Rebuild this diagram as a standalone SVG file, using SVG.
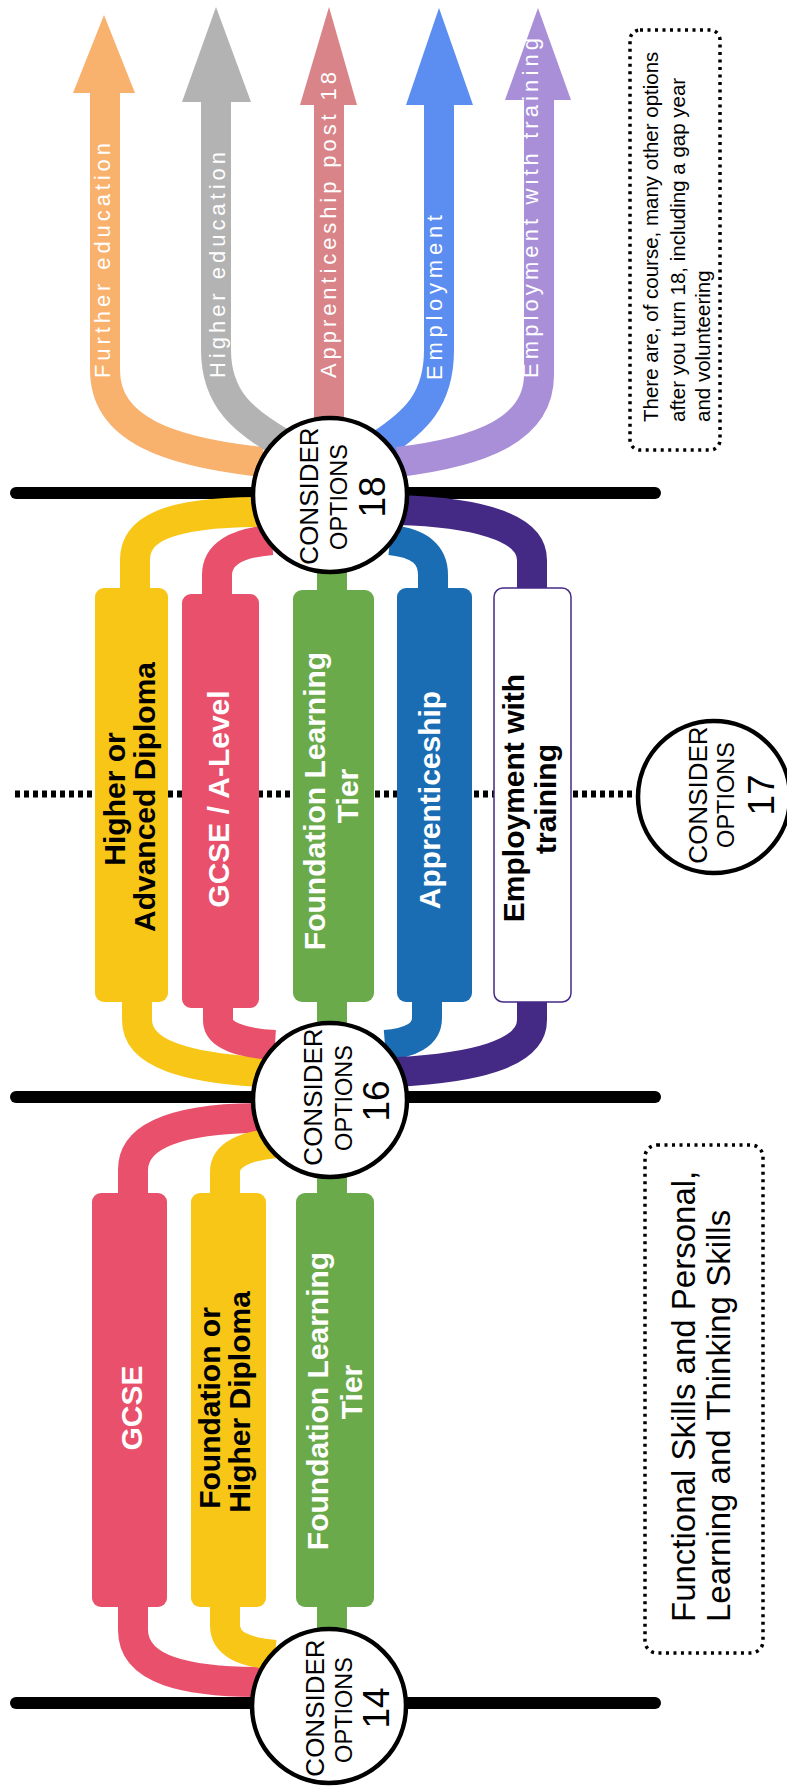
<svg xmlns="http://www.w3.org/2000/svg" width="787" height="1787" viewBox="0 0 787 1787">
<style>
text{font-family:"Liberation Sans",Arial,sans-serif}
.ln{stroke:#000;stroke-width:12;stroke-linecap:round;fill:none}
.dot{stroke:#000;stroke-width:7;stroke-dasharray:5 4;fill:none}
.tube{fill:none;stroke-width:30}
.circ{fill:#fff;stroke:#000;stroke-width:4.5}
.ct{font-size:26px;text-anchor:middle}
.co{font-size:23.5px;text-anchor:middle}
.cn{font-size:37px;text-anchor:middle}
.bl{font-size:30px;font-weight:bold;text-anchor:middle}
.w{fill:#fff}
.k{fill:#000}
.al{font-size:22px;fill:#fff}
.note{fill:#fff;stroke:#000;stroke-width:3.5;stroke-dasharray:3 4.5}
.nt{font-size:20.5px;fill:#000}
.nb{font-size:33px;fill:#000}
</style>

<g id="timeline-lines">
<line class="ln" x1="16" y1="493" x2="655" y2="493"/>
<line class="ln" x1="16" y1="1097" x2="655" y2="1097"/>
<line class="ln" x1="16" y1="1703" x2="655" y2="1703"/>
<line class="dot" x1="15" y1="794" x2="640" y2="794"/>
</g>

<g id="connectors">
<path class="tube" stroke="#F9B26E" stroke-width="31" d="M105,92 V370 C105,430 170,452 262,462"/>
<path class="tube" stroke="#B3B3B3" stroke-width="33" d="M216,100 V350 C216,400 245,422 285,445"/>
<path class="tube" stroke="#D88488" stroke-width="27" d="M329,100 V430"/>
<path class="tube" stroke="#5C8DF0" stroke-width="37" d="M439,100 V350 C439,400 415,422 380,445"/>
<path class="tube" stroke="#A98FD8" stroke-width="35" d="M539,98 V375 C539,430 480,452 398,462"/>
<path class="tube" stroke="#F7C616" d="M135,595 V560 C135,530 165,512 262,512"/>
<path class="tube" stroke="#E8506B" stroke-width="28" d="M217,600 V575 C217,555 235,543 272,540"/>
<path class="tube" stroke="#6BAA4B" stroke-width="28" d="M332,560 V600"/>
<path class="tube" stroke="#1A6DB3" d="M433,600 V575 C433,555 420,543 390,540"/>
<path class="tube" stroke="#452A85" d="M532,600 V560 C532,525 470,512 398,510"/>
<path class="tube" stroke="#F7C616" d="M137,995 V1020 C137,1055 190,1068 262,1072"/>
<path class="tube" stroke="#E8506B" stroke-width="28" d="M218,1000 V1020 C218,1035 240,1043 275,1045"/>
<path class="tube" stroke="#6BAA4B" stroke-width="28" d="M332,995 V1035"/>
<path class="tube" stroke="#1A6DB3" d="M427,995 V1018 C427,1035 410,1043 385,1045"/>
<path class="tube" stroke="#452A85" d="M532,995 V1020 C532,1055 470,1068 398,1072"/>
<path class="tube" stroke="#E8506B" d="M133,1200 V1170 C133,1135 180,1118 262,1118"/>
<path class="tube" stroke="#F7C616" stroke-width="28" d="M225,1200 V1172 C225,1155 245,1145 280,1143"/>
<path class="tube" stroke="#6BAA4B" stroke-width="28" d="M332,1165 V1200"/>
<path class="tube" stroke="#E8506B" d="M133,1600 V1630 C133,1670 185,1682 262,1682"/>
<path class="tube" stroke="#F7C616" stroke-width="28" d="M225,1600 V1625 C225,1645 245,1652 275,1655"/>
<path class="tube" stroke="#6BAA4B" stroke-width="28" d="M332,1600 V1640"/>
</g>

<g id="arrow-further-education">
<polygon fill="#F9B26E" points="104,15 135,93 73,93"/>
<text class="al" transform="rotate(-90)" x="-378" y="110" textLength="235" lengthAdjust="spacing">Further education</text>
</g>
<g id="arrow-higher-education">
<polygon fill="#B3B3B3" points="216,7 251,102 182,102"/>
<text class="al" transform="rotate(-90)" x="-378" y="225" textLength="226" lengthAdjust="spacing">Higher education</text>
</g>
<g id="arrow-apprenticeship-post-18">
<polygon fill="#D88488" points="329,7 357,105 300,105"/>
<text class="al" transform="rotate(-90)" x="-378" y="336" textLength="306" lengthAdjust="spacing">Apprenticeship post 18</text>
</g>
<g id="arrow-employment">
<polygon fill="#5C8DF0" points="439,8 473,105 406,105"/>
<text class="al" transform="rotate(-90)" x="-380" y="442" textLength="165" lengthAdjust="spacing">Employment</text>
</g>
<g id="arrow-employment-with-training">
<polygon fill="#A98FD8" points="538,8 571,100 505,100"/>
<text class="al" transform="rotate(-90)" x="-378" y="538" textLength="340" lengthAdjust="spacing">Employment with training</text>
</g>

<g id="note-other-options">
<rect class="note" x="630" y="30" width="90" height="420" rx="10"/>
<text class="nt" transform="rotate(-90)" x="-422" y="658">There are, of course, many other options</text>
<text class="nt" transform="rotate(-90)" x="-422" y="685">after you turn 18, including a gap year</text>
<text class="nt" transform="rotate(-90)" x="-422" y="710">and volunteering</text>
</g>

<g id="bar-higher-advanced-diploma">
<rect x="95" y="588" width="73" height="414" rx="9" fill="#F7C616"/>
<text class="bl k" transform="rotate(-90)" x="-799" y="125">Higher or</text>
<text class="bl k" transform="rotate(-90)" x="-797" y="155">Advanced Diploma</text>
</g>
<g id="bar-gcse-a-level">
<rect x="182" y="594" width="77" height="414" rx="9" fill="#E8506B"/>
<text class="bl w" transform="rotate(-90)" x="-799" y="229">GCSE / A-Level</text>
</g>
<g id="bar-foundation-learning-tier-16">
<rect x="293" y="590" width="81" height="412" rx="9" fill="#6BAA4B"/>
<text class="bl w" transform="rotate(-90)" x="-801" y="325">Foundation Learning</text>
<text class="bl w" transform="rotate(-90)" x="-796" y="358">Tier</text>
</g>
<g id="bar-apprenticeship">
<rect x="397" y="588" width="75" height="414" rx="9" fill="#1A6DB3"/>
<text class="bl w" transform="rotate(-90)" x="-800" y="440">Apprenticeship</text>
</g>
<g id="bar-employment-with-training">
<rect x="494" y="588" width="77" height="414" rx="9" fill="#fff" stroke="#452A85" stroke-width="1.5"/>
<text class="bl k" transform="rotate(-90)" x="-798" y="524">Employment with</text>
<text class="bl k" transform="rotate(-90)" x="-799" y="556">training</text>
</g>

<g id="bar-gcse">
<rect x="92" y="1193" width="75" height="414" rx="9" fill="#E8506B"/>
<text class="bl w" transform="rotate(-90)" x="-1408" y="142">GCSE</text>
</g>
<g id="bar-foundation-higher-diploma">
<rect x="191" y="1193" width="75" height="414" rx="9" fill="#F7C616"/>
<text class="bl k" transform="rotate(-90)" x="-1408" y="220">Foundation or</text>
<text class="bl k" transform="rotate(-90)" x="-1402" y="250">Higher Diploma</text>
</g>
<g id="bar-foundation-learning-tier-14">
<rect x="296" y="1193" width="78" height="414" rx="9" fill="#6BAA4B"/>
<text class="bl w" transform="rotate(-90)" x="-1401" y="328">Foundation Learning</text>
<text class="bl w" transform="rotate(-90)" x="-1392" y="362">Tier</text>
</g>

<g id="note-functional-skills">
<rect class="note" x="645" y="1145" width="118" height="508" rx="12"/>
<text class="nb" transform="rotate(-90)" x="-1622" y="695">Functional Skills and Personal,</text>
<text class="nb" transform="rotate(-90)" x="-1622" y="730">Learning and Thinking Skills</text>
</g>

<g id="circle-18">
<circle class="circ" cx="330" cy="495" r="77"/>
<text class="ct" transform="rotate(-90)" x="-496" y="318">CONSIDER</text>
<text class="co" transform="rotate(-90)" x="-497" y="347">OPTIONS</text>
<text class="cn" transform="rotate(-90)" x="-497" y="385">18</text>
</g>
<g id="circle-17">
<circle class="circ" cx="714" cy="797" r="76"/>
<text class="ct" transform="rotate(-90)" x="-795" y="707">CONSIDER</text>
<text class="co" transform="rotate(-90)" x="-795" y="734">OPTIONS</text>
<text class="cn" transform="rotate(-90)" x="-795" y="774">17</text>
</g>
<g id="circle-16">
<circle class="circ" cx="330" cy="1100" r="77"/>
<text class="ct" transform="rotate(-90)" x="-1097" y="322">CONSIDER</text>
<text class="co" transform="rotate(-90)" x="-1098" y="352">OPTIONS</text>
<text class="cn" transform="rotate(-90)" x="-1101" y="389">16</text>
</g>
<g id="circle-14">
<circle class="circ" cx="329" cy="1706" r="77"/>
<text class="ct" transform="rotate(-90)" x="-1708" y="324">CONSIDER</text>
<text class="co" transform="rotate(-90)" x="-1710" y="352">OPTIONS</text>
<text class="cn" transform="rotate(-90)" x="-1708" y="389">14</text>
</g>
</svg>
